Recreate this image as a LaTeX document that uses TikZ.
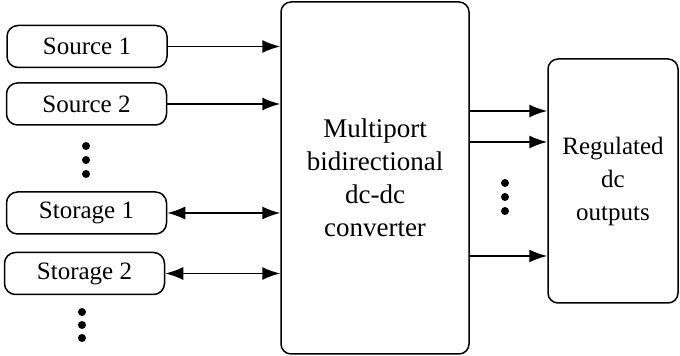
\documentclass[tikz,border=0pt]{standalone}
\usepackage{fontspec}
\setmainfont{Liberation Serif}
\usetikzlibrary{
	arrows.meta,
	positioning,
	calc
}
\tikzset{
	puerto/.style={
		draw,
		rounded corners=5.5pt,
		line width=0.75pt,
		minimum width=80pt,
		minimum height=21pt,
		inner sep=0pt,
		font=\fontsize{12.5}{16.5}\selectfont
	},
	bloque/.style={
		draw,
		rounded corners=5pt,
		line width=0.75pt,
		align=center,
		inner sep=0pt,
		font=\fontsize{12.5}{16.5}\selectfont
	},
	flecha/.style={
		-{Latex[length=9pt,width=6.5pt]},
		line width=0.8pt
	},
	flechaDoble/.style={
		{Latex[length=9pt,width=6.5pt]}-{Latex[length=9pt,width=6.5pt]},
		line width=0.8pt
	}
}

\begin{document}
\begin{tikzpicture}[x=0.5pt,y=-0.5pt]
		\useasboundingbox (0,0) rectangle (680,356);
		\node[puerto] (fuente1) at (87,46.5) {Source 1};
		\node[puerto] (fuente2) at (86.5,104) {Source 2};
		\node[puerto] (almacen1) at (86.5,213) {Storage 1};
		\node[puerto] (almacen2) at (84.5,273.5) {Storage 2};
		\node[bloque, minimum width=94pt, minimum height=176pt, font=\fontsize{13.5}{16.5}\selectfont] (convertidor) at (375,178) {Multiport\\bidirectional\\dc-dc\\converter};
		\node[bloque, minimum width=65pt, minimum height=122pt] (salidas) at (613,181) {Regulated\\dc\\outputs};
		\draw[flecha] (fuente1.east) -- (fuente1.east -| convertidor.west);
		\draw[flecha] (fuente2.east) -- (fuente2.east -| convertidor.west);
		\draw[flechaDoble] (almacen1.east) -- (almacen1.east -| convertidor.west);
		\draw[flechaDoble] (almacen2.east) -- (almacen2.east -| convertidor.west);
		\foreach \y [count=\i] in {111,142,256}{
			\coordinate (sal\i) at (469,\y);
			\draw[flecha] (sal\i) -- (sal\i -| salidas.west);
		}
		\foreach \y in {146,160,174}{\fill (86,\y) circle (2pt);}
		\foreach \y in {312,325,338}{\fill (82,\y) circle (2pt);}
		\foreach \y in {183,197,211}{\fill (505,\y) circle (2pt);}
	\end{tikzpicture}
\end{document}
